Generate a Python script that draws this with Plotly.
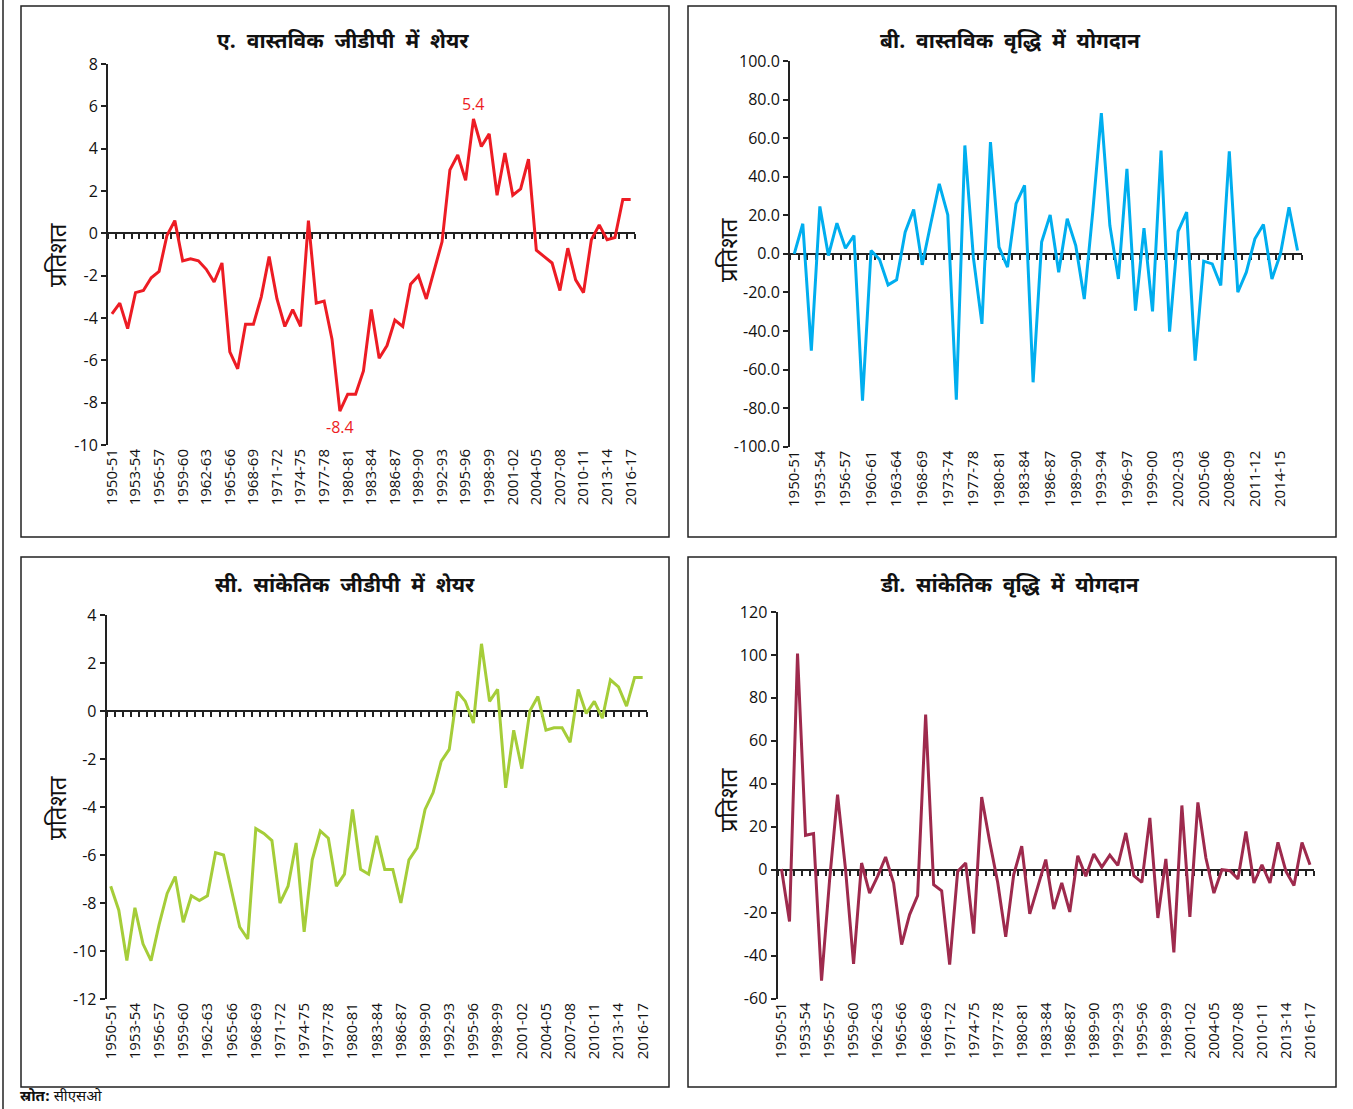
import plotly.graph_objects as go

W, H = 1353, 1109

# ---------------- data ----------------
years = [
    "1950-51", "1951-52", "1952-53", "1953-54", "1954-55", "1955-56", "1956-57", "1957-58",
    "1958-59", "1959-60", "1960-61", "1961-62", "1962-63", "1963-64", "1964-65", "1965-66",
    "1966-67", "1967-68", "1968-69", "1969-70", "1970-71", "1971-72", "1972-73", "1973-74",
    "1974-75", "1975-76", "1976-77", "1977-78", "1978-79", "1979-80", "1980-81", "1981-82",
    "1982-83", "1983-84", "1984-85", "1985-86", "1986-87", "1987-88", "1988-89", "1989-90",
    "1990-91", "1991-92", "1992-93", "1993-94", "1994-95", "1995-96", "1996-97", "1997-98",
    "1998-99", "1999-00", "2000-01", "2001-02", "2002-03", "2003-04", "2004-05", "2005-06",
    "2006-07", "2007-08", "2008-09", "2009-10", "2010-11", "2011-12", "2012-13", "2013-14",
    "2014-15", "2015-16", "2016-17",
]

# years for which a growth contribution is reported
years_growth = [
    "1950-51", "1951-52", "1952-53", "1953-54", "1954-55", "1955-56", "1956-57", "1958-59",
    "1959-60", "1960-61", "1961-62", "1962-63", "1963-64", "1964-65", "1967-68", "1968-69",
    "1969-70", "1970-71", "1973-74", "1975-76", "1976-77", "1977-78", "1978-79", "1979-80",
    "1980-81", "1981-82", "1982-83", "1983-84", "1984-85", "1985-86", "1986-87", "1987-88",
    "1988-89", "1989-90", "1990-91", "1992-93", "1993-94", "1994-95", "1995-96", "1996-97",
    "1997-98", "1998-99", "1999-00", "2000-01", "2001-02", "2002-03", "2003-04", "2004-05",
    "2005-06", "2006-07", "2007-08", "2008-09", "2009-10", "2010-11", "2011-12", "2012-13",
    "2013-14", "2014-15", "2015-16", "2016-17",
]

share_real_gdp = [
    -3.8, -3.3, -4.5, -2.8, -2.7, -2.1, -1.8, -0.1, 0.6, -1.3,
    -1.2, -1.3, -1.7, -2.3, -1.4, -5.6, -6.4, -4.3, -4.3, -3.0,
    -1.1, -3.1, -4.4, -3.6, -4.4, 0.6, -3.3, -3.2, -5.0, -8.4,
    -7.6, -7.6, -6.5, -3.6, -5.9, -5.3, -4.1, -4.4, -2.4, -2.0,
    -3.1, -1.7, -0.4, 3.0, 3.7, 2.5, 5.4, 4.1, 4.7, 1.8,
    3.8, 1.8, 2.1, 3.5, -0.8, -1.1, -1.4, -2.7, -0.7, -2.2,
    -2.8, -0.3, 0.4, -0.3, -0.2, 1.6, 1.6,
]

contrib_real_growth = [
    0.0, 15.6, -50.2, 24.6, -0.9, 15.9, 2.9, 9.5, -76.1, 1.7,
    -2.9, -16.1, -13.5, 11.2, 23.0, -5.7, 15.6, 36.3, 20.2, -75.6,
    56.2, -2.0, -36.3, 58.0, 3.5, -6.9, 26.0, 35.5, -66.6, 6.1,
    20.2, -9.5, 18.2, 4.3, -23.4, 22.0, 73.0, 14.7, -13.0, 44.1,
    -29.4, 13.3, -29.8, 53.6, -40.3, 11.6, 21.6, -55.4, -3.8, -5.2,
    -16.4, 53.1, -19.9, -9.5, 7.8, 15.2, -13.0, 0.0, 24.2, 1.7,
]

share_nominal_gdp = [
    -7.3, -8.3, -10.4, -8.2, -9.7, -10.4, -8.9, -7.6, -6.9, -8.8,
    -7.7, -7.9, -7.7, -5.9, -6.0, -7.5, -9.0, -9.5, -4.9, -5.1,
    -5.4, -8.0, -7.3, -5.5, -9.2, -6.2, -5.0, -5.3, -7.3, -6.8,
    -4.1, -6.6, -6.8, -5.2, -6.6, -6.6, -8.0, -6.2, -5.7, -4.1,
    -3.4, -2.1, -1.6, 0.8, 0.4, -0.5, 2.8, 0.4, 0.9, -3.2,
    -0.8, -2.4, 0.0, 0.6, -0.8, -0.7, -0.7, -1.3, 0.9, -0.1,
    0.4, -0.3, 1.3, 1.0, 0.2, 1.4, 1.4,
]

contrib_nominal_growth = [
    0.3, -24.1, 100.6, 16.0, 16.8, -51.7, -5.0, 34.9, 0.0, -43.9,
    3.1, -10.9, -3.1, 5.9, -6.2, -34.9, -20.9, -12.1, 72.2, -7.0,
    -9.8, -44.2, -0.8, 3.1, -29.8, 33.8, 13.0, -6.0, -31.3, -2.3,
    10.9, -20.6, -8.0, 4.7, -18.3, -6.2, -19.7, 6.5, -3.1, 7.3,
    1.2, 6.8, 2.0, 17.1, -2.8, -5.9, 24.1, -22.5, 5.0, -38.5,
    29.9, -22.0, 31.3, 5.4, -10.9, 0.0, -0.5, -4.3, 17.8, -6.2,
    2.3, -6.2, 12.7, -0.8, -7.4, 12.7, 2.3,
]

titles = [
    "ए.&nbsp; वास्तविक&nbsp; जीडीपी&nbsp; में&nbsp; शेयर",
    "बी.&nbsp; वास्तविक&nbsp; वृद्धि&nbsp; में&nbsp; योगदान",
    "सी.&nbsp; सांकेतिक&nbsp; जीडीपी&nbsp; में&nbsp; शेयर",
    "डी.&nbsp; सांकेतिक&nbsp; वृद्धि&nbsp; में&nbsp; योगदान",
]
y_title = "प्रतिशत"
source_label = "स्रोत:"
source_name = "सीएसओ"

ticks_a = [8, 6, 4, 2, 0, -2, -4, -6, -8, -10]
ticks_b = [100, 80, 60, 40, 20, 0, -20, -40, -60, -80, -100]
ticks_c = [4, 2, 0, -2, -4, -6, -8, -10, -12]
ticks_d = [120, 100, 80, 60, 40, 20, 0, -20, -40, -60]

colors = ["#ED1C24", "#00AEEF", "#A5CD39", "#9E2A4D"]

# ---------------- layout helpers ----------------
FONT = "Noto Sans Devanagari, Noto Sans, Open Sans, sans-serif"
AXIS_COLOR = "#222222"


def px(x):
    return x / W


def py(y):
    return 1 - y / H


def tick_text(vals, fmt):
    return [fmt.format(v).replace("\u2212", "-") for v in vals]


# panel geometry in pixels: plot area (x0, x1, ytop, ybottom), box (x0, y0, x1, y1)
panels = [
    dict(cats=years, vals=share_real_gdp, ticks=ticks_a, fmt="{:d}",
         area=(108, 634.6, 64, 445), box=(21, 6, 669, 537),
         title_xy=(343, 43), ytitle_xy=(60, 255)),
    dict(cats=years_growth, vals=contrib_real_growth, ticks=ticks_b, fmt="{:.1f}",
         area=(790, 1301.8, 61, 446.7), box=(688, 6, 1336, 537),
         title_xy=(1010, 43), ytitle_xy=(731, 250)),
    dict(cats=years, vals=share_nominal_gdp, ticks=ticks_c, fmt="{:d}",
         area=(106.7, 646.7, 615, 999), box=(21, 557, 669, 1087),
         title_xy=(345, 587), ytitle_xy=(60, 808)),
    dict(cats=years, vals=contrib_nominal_growth, ticks=ticks_d, fmt="{:d}",
         area=(777.5, 1314, 612, 998.5), box=(688, 557, 1336, 1087),
         title_xy=(1010, 587), ytitle_xy=(731, 800)),
]

fig = go.Figure()
layout = {}
shapes = []
annotations = []

for i, p in enumerate(panels):
    k = i + 1
    xa = "x" if k == 1 else f"x{k}"
    ya = "y" if k == 1 else f"y{k}"
    xt = f"x{k + 4}"
    n = len(p["cats"])
    x0, x1, yt, yb = p["area"]
    ymin, ymax = min(p["ticks"]), max(p["ticks"])
    ydom = [py(yb), py(yt)]

    fig.add_trace(go.Scatter(
        x=p["cats"], y=p["vals"], xaxis=xa, yaxis=ya, mode="lines",
        line=dict(color=colors[i], width=3), showlegend=False,
    ))
    # baseline carrier for the category tick-mark axis
    fig.add_trace(go.Scatter(
        x=list(range(n)), y=[0] * n, xaxis=xt, yaxis=ya, mode="lines",
        line=dict(color="rgba(0,0,0,0)", width=0), hoverinfo="skip", showlegend=False,
    ))

    layout[f"xaxis{k if k > 1 else ''}"] = dict(
        domain=[px(x0), px(x1)], anchor=ya, type="category",
        categoryorder="array", categoryarray=p["cats"],
        range=[-0.5, n - 0.5], tickvals=p["cats"][::3], tickangle=-90,
        showline=False, ticks="", showgrid=False, zeroline=False, automargin=False,
        tickfont=dict(family="Open Sans", size=15, color="#111"),
    )
    layout[f"yaxis{k if k > 1 else ''}"] = dict(
        domain=ydom, anchor=xa, range=[ymin, ymax],
        tickvals=p["ticks"], ticktext=tick_text(p["ticks"], p["fmt"]),
        showline=True, linecolor=AXIS_COLOR, linewidth=2,
        ticks="outside", ticklen=5, tickwidth=1.5, tickcolor=AXIS_COLOR,
        showgrid=False, zeroline=False, automargin=False,
        tickfont=dict(family="Open Sans", size=16, color="#111"),
    )
    zero_pos = ydom[0] + (0 - ymin) / (ymax - ymin) * (ydom[1] - ydom[0])
    layout[f"xaxis{k + 4}"] = dict(
        overlaying=xa, anchor="free", position=zero_pos, type="linear",
        range=[-0.5, n - 0.5], tickmode="linear", tick0=-0.5, dtick=1,
        ticks="outside", ticklen=5, tickwidth=1.5, tickcolor=AXIS_COLOR,
        showline=True, linecolor=AXIS_COLOR, linewidth=2, automargin=False,
        showticklabels=False, showgrid=False, zeroline=False, layer="below traces",
    )

    bx0, by0, bx1, by1 = p["box"]
    shapes.append(dict(type="rect", xref="paper", yref="paper",
                       x0=px(bx0), x1=px(bx1), y0=py(by1), y1=py(by0),
                       line=dict(color=AXIS_COLOR, width=1.5)))
    tx, ty = p["title_xy"]
    annotations.append(dict(xref="paper", yref="paper", x=px(tx), y=py(ty),
                            text=f"<b>{titles[i]}</b>", showarrow=False,
                            xanchor="center", yanchor="middle",
                            font=dict(family=FONT, size=21, color="#111")))
    yx, yy = p["ytitle_xy"]
    annotations.append(dict(xref="paper", yref="paper", x=px(yx), y=py(yy),
                            text=y_title, showarrow=False, textangle=-90,
                            xanchor="center", yanchor="middle",
                            font=dict(family=FONT, size=24, color="#111")))

# peak / trough labels on the real GDP share series
peak_i = share_real_gdp.index(max(share_real_gdp))
low_i = share_real_gdp.index(min(share_real_gdp))
annotations.append(dict(x=years[peak_i], y=share_real_gdp[peak_i], xref="x", yref="y",
                        text=f"{share_real_gdp[peak_i]:.1f}", showarrow=False,
                        yshift=15, font=dict(family="Open Sans", size=16, color=colors[0])))
annotations.append(dict(x=years[low_i], y=share_real_gdp[low_i], xref="x", yref="y",
                        text=f"{share_real_gdp[low_i]:.1f}", showarrow=False,
                        yshift=-16, font=dict(family="Open Sans", size=16, color=colors[0])))

# source note along the bottom edge
annotations.append(dict(xref="paper", yref="paper", x=px(19), y=py(1108),
                        text=f"<b>{source_label}</b> {source_name}", showarrow=False,
                        xanchor="left", yanchor="bottom", borderpad=0,
                        font=dict(family=FONT, size=15, color="#111")))

# outer left rule
shapes.append(dict(type="line", xref="paper", yref="paper",
                   x0=px(3), x1=px(3), y0=0, y1=1,
                   line=dict(color=AXIS_COLOR, width=1.5)))

fig.update_layout(
    width=W, height=H, margin=dict(l=0, r=0, t=0, b=0, pad=0, autoexpand=False),
    paper_bgcolor="white", plot_bgcolor="white",
    shapes=shapes, annotations=annotations, showlegend=False,
    **layout,
)

fig.write_html("out.html")
